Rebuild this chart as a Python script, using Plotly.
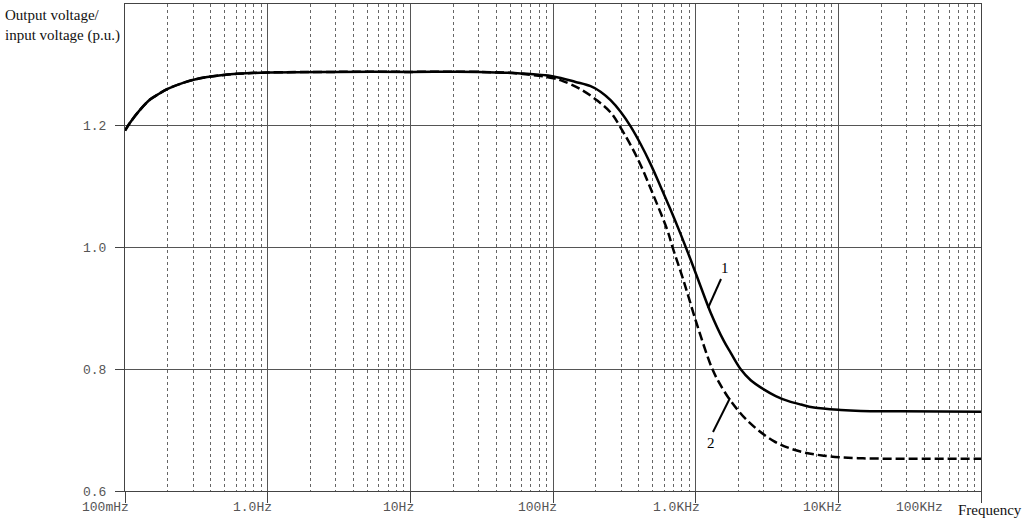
import math
import plotly.graph_objects as go

# ---- data ----
low_f = [0.1, 0.1084, 0.1274, 0.1498, 0.1704, 0.1971, 0.2553, 0.336, 0.4421, 0.6109, 1.0,
         3.0, 10, 30]
low_v = [1.192, 1.205, 1.226, 1.243, 1.2515, 1.260, 1.2705, 1.278, 1.2822, 1.2853, 1.2875,
         1.2885, 1.2885, 1.2885]

freq1 = low_f + [59.2, 100.8, 143.9, 183.4, 215.4, 253.2, 297.7, 349.9, 411.2, 483.3, 568.1,
                 667.6, 784.6, 922.3, 1084, 1274, 1572, 1761, 2069, 2432, 3001, 3641, 4422,
                 5457, 6733, 10410, 14390, 27450, 100000]
v1 = low_v + [1.2860, 1.281, 1.272, 1.265, 1.256, 1.242, 1.223, 1.199, 1.170, 1.137, 1.100,
              1.062, 1.022, 0.980, 0.936, 0.893, 0.847, 0.827, 0.800, 0.782, 0.767, 0.756,
              0.748, 0.742, 0.737, 0.733, 0.7315, 0.731, 0.730]

freq2 = low_f + [59.2, 100.8, 118.5, 156.0, 205.3, 253.2, 297.7, 391.8, 507.5, 636.1, 689.5,
                 823.8, 1032.8, 1316, 1547, 1761, 2317, 3527, 5196, 7910, 13700, 27450, 100000]
v2 = low_v + [1.2855, 1.278, 1.273, 1.260, 1.241, 1.222, 1.197, 1.146, 1.085, 1.027, 1.000,
              0.945, 0.870, 0.799, 0.768, 0.748, 0.715, 0.682, 0.666, 0.658, 0.654, 0.653,
              0.653]

x_tick_vals = [0.1, 1, 10, 100, 1000, 10000, 100000]
x_tick_text = ["100mHz", "1.0Hz", "10Hz", "100Hz", "1.0KHz", "10KHz", "100KHz"]
y_tick_vals = [0.6, 0.8, 1.0, 1.2]
y_tick_text = ["0.6", "0.8", "1.0", "1.2"]
y_title = "Output voltage/<br>input voltage (p.u.)"
x_title = "Frequency"
curve_labels = ["1", "2"]

XMIN, XMAX = -1, 5
YMIN, YMAX = 0.6, 1.4

minor_vals = [k * 10 ** d for d in range(XMIN, XMAX) for k in range(2, 10)]

fig = go.Figure()
fig.add_trace(go.Scatter(x=freq1, y=v1, mode="lines",
                         line=dict(color="black", width=2.5, shape="spline", smoothing=1.0),
                         showlegend=False))
fig.add_trace(go.Scatter(x=freq2, y=v2, mode="lines",
                         line=dict(color="black", width=2.5, shape="spline", smoothing=1.0,
                                   dash="9px,4px"),
                         showlegend=False))

mono = dict(family="Liberation Mono, Courier New, monospace", size=13, color="#555")
serif = dict(family="Liberation Serif, Times New Roman, serif", size=15, color="#111")

fig.update_layout(
    width=1024, height=519,
    margin=dict(l=125, r=43, t=4, b=28),
    paper_bgcolor="white", plot_bgcolor="white",
    xaxis=dict(type="log", range=[XMIN, XMAX], tickvals=x_tick_vals, showticklabels=False,
               ticks="outside", ticklen=11, tickcolor="#444",
               showgrid=True, gridcolor="#555", gridwidth=1,
               showline=True, linecolor="#444", linewidth=1, mirror=True, zeroline=False,
               minor=dict(tickvals=minor_vals, showgrid=True, gridcolor="#666",
                          griddash="dot", gridwidth=1, ticks="")),
    yaxis=dict(range=[YMIN, YMAX], tickvals=y_tick_vals, ticktext=y_tick_text,
               ticks="outside", ticklen=9, tickcolor="#444", tickfont=mono,
               ticklabelstandoff=6,
               showgrid=True, gridcolor="#555", gridwidth=1,
               showline=True, linecolor="#444", linewidth=1, mirror=True, zeroline=False),
)

annotations = []
for i, (v, t) in enumerate(zip(x_tick_vals, x_tick_text)):
    px = (math.log10(v) - XMIN) / (XMAX - XMIN)
    shift = 6 if i < len(x_tick_vals) - 1 else -36
    annotations.append(dict(x=px, y=0, xref="paper", yref="paper", text=t, showarrow=False,
                            xanchor="right", yanchor="middle", xshift=shift, yshift=-16,
                            font=mono))
annotations.append(dict(x=1, y=0, xref="paper", yref="paper", text=x_title, showarrow=False,
                        xanchor="left", yanchor="middle", xshift=-25, yshift=-19, font=serif))
annotations.append(dict(x=0, y=1, xref="paper", yref="paper", text=y_title, showarrow=False,
                        xanchor="left", yanchor="top", align="left", xshift=-122, yshift=-1,
                        font=serif))

def to_paper(px, py):
    return (px - 125) / 856, (491 - py) / 487

lab_pos = [(725, 268), (711, 443)]
leaders = [((708, 308), (721, 279)), ((713, 432), (730, 398))]
label_font = dict(family="Liberation Serif, Times New Roman, serif", size=15, color="black")
for txt, (lx, ly) in zip(curve_labels, lab_pos):
    x, y = to_paper(lx, ly)
    annotations.append(dict(x=x, y=y, xref="paper", yref="paper", text=txt, showarrow=False,
                            xanchor="center", yanchor="middle", font=label_font))
shapes = []
for (a, b) in leaders:
    x0, y0 = to_paper(*a)
    x1, y1 = to_paper(*b)
    shapes.append(dict(type="line", xref="paper", yref="paper", x0=x0, y0=y0, x1=x1, y1=y1,
                       line=dict(color="black", width=2)))

fig.update_layout(annotations=annotations, shapes=shapes)
fig.write_html("out.html", config={"displayModeBar": False},
               post_script="document.body.style.margin='0';")
